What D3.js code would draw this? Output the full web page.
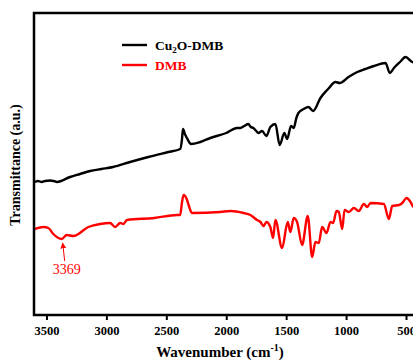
<!DOCTYPE html>
<html>
<head>
<meta charset="utf-8">
<script src="https://cdn.jsdelivr.net/npm/d3@7"></script>
<style>
  body { margin: 0; background: #fff; }
  svg { display: block; font-family: "Liberation Serif", "Times New Roman", serif; }
</style>
</head>
<body>
<div id="chart"></div>
<script>
// FTIR spectra, transmittance in arbitrary units (offset curves)
const cu2oWavenumber = [3596, 3571, 3540, 3512, 3470, 3440, 3412, 3303, 3220, 3136, 3040, 2944, 2802, 2650, 2484, 2384, 2370, 2361, 2345, 2328, 2294, 2217, 2133, 2000, 1910, 1882, 1850, 1816, 1795, 1774, 1750, 1732, 1701, 1665, 1632, 1590, 1554, 1515, 1492, 1459, 1437, 1415, 1398, 1353, 1314, 1275, 1214, 1150, 1089, 1053, 980, 907, 840, 768, 671, 635, 601, 550, 504, 448, 404];
const cu2oValue = [133, 134, 133, 134, 134.5, 134, 133, 138, 141, 144, 146, 148, 153, 158, 163, 166, 175, 186, 181, 177, 171, 173, 177, 182, 187, 187, 189, 191, 188, 187, 184, 182, 184, 179, 188, 191, 170, 182, 176, 189, 187, 197, 202, 206, 208, 204, 217, 226, 233, 232, 238, 243, 246, 249, 252, 242, 247, 253, 258, 253, 252];

const dmbWavenumber = [3596, 3526, 3484, 3443, 3373, 3331, 3276, 3150, 3052, 2969, 2927, 2885, 2858, 2829, 2600, 2411, 2384, 2370, 2356, 2330, 2314, 2286, 2050, 1966, 1855, 1799, 1743, 1715, 1688, 1665, 1632, 1609, 1590, 1534, 1487, 1465, 1437, 1409, 1367, 1320, 1283, 1256, 1228, 1200, 1164, 1130, 1108, 1080, 1061, 1032, 1013, 977, 935, 894, 852, 824, 796, 685, 643, 615, 559, 531, 495, 462, 437, 404];
const dmbValue = [86, 88, 87, 81, 76, 80, 79, 88, 91, 92, 88, 92, 91, 95, 97, 100, 100, 112, 120, 116, 110, 102, 103, 104, 102, 100, 95, 93, 89, 93, 88, 77, 95, 67, 93, 83, 97, 93, 70, 99, 58, 73, 72, 88, 82, 93, 92, 104, 103, 86, 105, 103, 107, 104, 111, 108, 112, 111, 96, 109, 110, 112, 117, 113, 108, 110];

const xTicks = [3500, 3000, 2500, 2000, 1500, 1000, 500];
const seriesNames = ["Cu\u2082O-DMB", "DMB"];
const seriesColors = ["#000000", "#ff0000"];
const peakLabel = { wn: 3373, text: "3369" };

const W = 413, H = 362;
const margin = { top: 13, right: -5, bottom: 47, left: 34 };

const svg = d3.select("#chart").append("svg")
  .attr("width", W).attr("height", H);

const x = d3.scaleLinear().domain([3604, 400]).range([margin.left, W - margin.right]);
const y = d3.scaleLinear().domain([0, 302]).range([H - margin.bottom, margin.top]);

svg.append("clipPath").attr("id", "plot")
  .append("rect")
  .attr("x", margin.left).attr("y", margin.top)
  .attr("width", W - margin.right - margin.left)
  .attr("height", H - margin.bottom - margin.top);

const line = d3.line().x(d => x(d[0])).y(d => y(d[1])).curve(d3.curveMonotoneX);

const series = [
  d3.zip(cu2oWavenumber, cu2oValue),
  d3.zip(dmbWavenumber, dmbValue)
];

svg.append("g").attr("clip-path", "url(#plot)")
  .selectAll("path")
  .data(series)
  .join("path")
  .attr("d", line)
  .attr("fill", "none")
  .attr("stroke", (d, i) => seriesColors[i])
  .attr("stroke-width", 2.4)
  .attr("stroke-linejoin", "round");

// bottom axis
const xAxis = svg.append("g")
  .attr("transform", `translate(0,${H - margin.bottom})`)
  .call(d3.axisBottom(x).tickValues(xTicks).tickFormat(d3.format("d"))
    .tickSize(5).tickSizeOuter(0).tickPadding(6));
xAxis.select(".domain").remove();
xAxis.selectAll(".tick line").attr("stroke-width", 2);
xAxis.selectAll(".tick text")
  .attr("font-family", "Liberation Serif")
  .attr("font-weight", "bold")
  .attr("font-size", 12.5)
  .attr("fill", "#000");

// frame
svg.append("rect")
  .attr("x", margin.left).attr("y", margin.top)
  .attr("width", W - margin.right - margin.left)
  .attr("height", H - margin.bottom - margin.top)
  .attr("fill", "none").attr("stroke", "#000").attr("stroke-width", 2.5);

// axis titles
const xt = svg.append("text")
  .attr("x", 220).attr("y", 357)
  .attr("text-anchor", "middle")
  .attr("font-weight", "bold").attr("font-size", 15);
xt.append("tspan").text("Wavenumber (cm");
xt.append("tspan").attr("font-size", 10).attr("dy", -6).text("-1");
xt.append("tspan").attr("dy", 6).text(")");

svg.append("text")
  .attr("transform", `translate(20,${165}) rotate(-90)`)
  .attr("text-anchor", "middle")
  .attr("font-weight", "bold").attr("font-size", 14)
  .text("Transmittance (a.u.)");

// legend
const legend = svg.append("g").attr("transform", "translate(122,45)");
seriesNames.forEach((name, i) => {
  const g = legend.append("g").attr("transform", `translate(0,${i * 20})`);
  g.append("line").attr("x1", 0).attr("x2", 25)
    .attr("stroke", seriesColors[i]).attr("stroke-width", 2.4);
  const t = g.append("text").attr("x", 33).attr("y", 4.5)
    .attr("font-weight", "bold").attr("font-size", 13.5)
    .attr("fill", seriesColors[i]);
  if (i === 0) {
    t.append("tspan").text("Cu");
    t.append("tspan").attr("font-size", 9).attr("dy", 3).text("2");
    t.append("tspan").attr("dy", -3).text("O-DMB");
  } else {
    t.text(name);
  }
});

// peak annotation
const peakY = y(dmbValue[dmbWavenumber.indexOf(peakLabel.wn)]);
svg.append("defs").append("marker")
  .attr("id", "arrow").attr("viewBox", "0 0 10 10")
  .attr("refX", 9).attr("refY", 5)
  .attr("markerWidth", 6).attr("markerHeight", 6)
  .attr("orient", "auto")
  .append("path").attr("d", "M0,0 L10,5 L0,10 z").attr("fill", "#ff0000");
svg.append("line")
  .attr("x1", x(peakLabel.wn) + 3).attr("y1", peakY + 22)
  .attr("x2", x(peakLabel.wn) + 1).attr("y2", peakY + 4)
  .attr("stroke", "#ff0000").attr("stroke-width", 1)
  .attr("marker-end", "url(#arrow)");
svg.append("text")
  .attr("x", x(peakLabel.wn) + 5).attr("y", peakY + 35)
  .attr("text-anchor", "middle")
  .attr("font-size", 14).attr("fill", "#ff0000")
  .text(peakLabel.text);
</script>
</body>
</html>
